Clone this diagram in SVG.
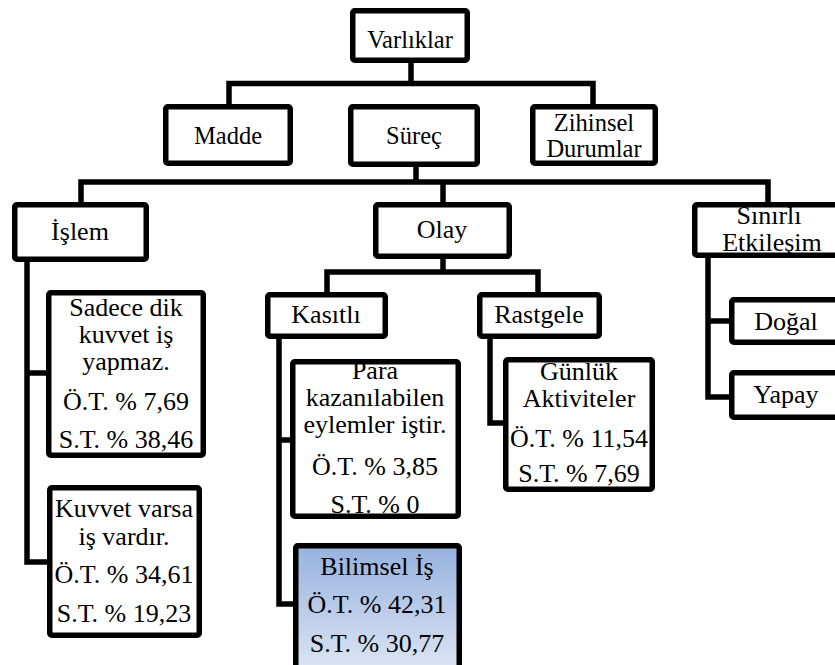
<svg xmlns="http://www.w3.org/2000/svg" width="835" height="665" viewBox="0 0 835 665">
  <style>
    .box { fill: #ffffff; stroke: #000000; stroke-width: 5.5; }
    .hl { fill: url(#blueFill); stroke: #000000; stroke-width: 5.5; }
    .wire { fill: none; stroke: #000000; stroke-width: 5.5; stroke-linejoin: miter; }
    text { font-family: "Liberation Serif", "Noto Serif", "DejaVu Serif", Times, serif; fill: #000000; text-anchor: middle; }
    .t1 { font-size: 24.5px; }
    .t2 { font-size: 26px; }
  </style>
  <defs>
    <linearGradient id="blueFill" x1="0" y1="0" x2="0" y2="1">
      <stop offset="0" stop-color="#96b2de"/>
      <stop offset="1" stop-color="#e2e9f5"/>
    </linearGradient>
  </defs>
  <rect width="835" height="665" fill="#ffffff"/>

  <g id="connectors">
    <!-- Varlıklar to level 1 -->
    <path class="wire" d="M411,63 V83.5 M229,104 V83.5 H593 V104"/>
    <!-- Süreç to level 2 -->
    <path class="wire" d="M416,167 V182 M81,202 V182 H768 V202 M443,182 V202"/>
    <!-- İşlem branch -->
    <path class="wire" d="M27,262 V562 H47 M27,373 H47"/>
    <!-- Olay to Kasıtlı / Rastgele -->
    <path class="wire" d="M443,259 V272 M327,292 V272 H538 V292"/>
    <!-- Kasıtlı branch -->
    <path class="wire" d="M279,339 V604 H293 M279,440 H290"/>
    <!-- Rastgele branch -->
    <path class="wire" d="M490,339 V423 H503"/>
    <!-- Sınırlı Etkileşim branch -->
    <path class="wire" d="M708,258 V397 H729 M708,321 H729"/>
  </g>

  <g id="varliklar">
    <rect class="box" x="352.75" y="10.75" width="114.5" height="49.5" rx="2"/>
    <text class="t1" x="410" y="48">Varlıklar</text>
  </g>
  <g id="madde">
    <rect class="box" x="165.75" y="106.75" width="124.5" height="56.5" rx="2"/>
    <text class="t1" x="228" y="144">Madde</text>
  </g>
  <g id="surec">
    <rect class="box" x="350.75" y="106.75" width="126.5" height="57.5" rx="2"/>
    <text class="t1" x="414" y="144">Süreç</text>
  </g>
  <g id="zihinsel">
    <rect class="box" x="532.75" y="106.75" width="122.5" height="56.5" rx="2"/>
    <text class="t1" x="594" y="131">Zihinsel</text>
    <text class="t1" x="594" y="157">Durumlar</text>
  </g>

  <g id="islem">
    <rect class="box" x="14.75" y="204.75" width="131.5" height="54.5" rx="2"/>
    <text class="t2" x="80" y="240">İşlem</text>
  </g>
  <g id="olay">
    <rect class="box" x="375.75" y="204.75" width="133.5" height="51.5" rx="2"/>
    <text class="t2" x="442" y="238">Olay</text>
  </g>
  <g id="sinirli">
    <rect class="box" x="694.75" y="204.75" width="160" height="50.5" rx="2"/>
    <text class="t2" x="769" y="224">Sınırlı</text>
    <text class="t2" x="772" y="251">Etkileşim</text>
  </g>

  <g id="sadece">
    <rect class="box" x="48.75" y="292.75" width="154.5" height="162.5" rx="2"/>
    <text class="t2" x="126" y="316">Sadece dik</text>
    <text class="t2" x="126" y="343">kuvvet iş</text>
    <text class="t2" x="126" y="370">yapmaz.</text>
    <text class="t2" x="126" y="410">Ö.T. % 7,69</text>
    <text class="t2" x="126" y="448">S.T. % 38,46</text>
  </g>
  <g id="kuvvet">
    <rect class="box" x="49.75" y="487.75" width="149.5" height="147.5" rx="2"/>
    <text class="t2" x="124" y="517">Kuvvet varsa</text>
    <text class="t2" x="124" y="545">iş vardır.</text>
    <text class="t2" x="124" y="583">Ö.T. % 34,61</text>
    <text class="t2" x="124" y="622">S.T. % 19,23</text>
  </g>

  <g id="kasitli">
    <rect class="box" x="267.75" y="294.75" width="117.5" height="41.5" rx="2"/>
    <text class="t2" x="326" y="323">Kasıtlı</text>
  </g>
  <g id="rastgele">
    <rect class="box" x="479.75" y="294.75" width="119.5" height="41.5" rx="2"/>
    <text class="t2" x="539" y="323">Rastgele</text>
  </g>

  <g id="para">
    <rect class="box" x="292.75" y="361.75" width="165.5" height="154.5" rx="2"/>
    <text class="t2" x="375" y="379">Para</text>
    <text class="t2" x="375" y="406">kazanılabilen</text>
    <text class="t2" x="375" y="433">eylemler iştir.</text>
    <text class="t2" x="375" y="475">Ö.T. % 3,85</text>
    <text class="t2" x="375" y="513">S.T. % 0</text>
  </g>
  <g id="bilimsel">
    <rect class="hl" x="295.75" y="545.75" width="163.5" height="135" rx="2"/>
    <text class="t2" x="377" y="575">Bilimsel İş</text>
    <text class="t2" x="377" y="613">Ö.T. % 42,31</text>
    <text class="t2" x="377" y="652">S.T. % 30,77</text>
  </g>
  <g id="gunluk">
    <rect class="box" x="505.75" y="359.75" width="146.5" height="129.5" rx="2"/>
    <text class="t2" x="579" y="380">Günlük</text>
    <text class="t2" x="579" y="407">Aktiviteler</text>
    <text class="t2" x="579" y="447">Ö.T. % 11,54</text>
    <text class="t2" x="579" y="482">S.T. % 7,69</text>
  </g>

  <g id="dogal">
    <rect class="box" x="731.75" y="299.75" width="110.5" height="42.5" rx="2"/>
    <text class="t2" x="786" y="330">Doğal</text>
  </g>
  <g id="yapay">
    <rect class="box" x="731.75" y="372.75" width="110.5" height="44.5" rx="2"/>
    <text class="t2" x="786" y="403">Yapay</text>
  </g>
</svg>
